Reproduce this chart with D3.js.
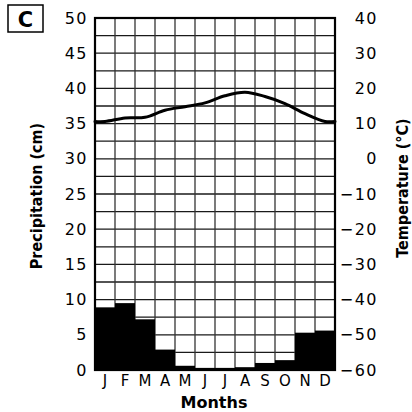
<!DOCTYPE html>
<html>
<head>
<meta charset="utf-8">
<script src="https://cdn.jsdelivr.net/npm/d3@7/dist/d3.min.js"></script>
<style>
  html, body { margin: 0; padding: 0; background: #fff; }
  svg { display: block; }
  .tick text { font-family: "DejaVu Sans", sans-serif; font-size: 16px; letter-spacing: 1.5px; fill: #000; }
  .title { font-family: "DejaVu Sans Condensed", "DejaVu Sans", sans-serif; font-stretch: condensed; font-weight: bold; font-size: 16px; fill: #000; }
</style>
</head>
<body>
<svg id="chart" width="412" height="412"></svg>
<script>
// Climate graph: monthly precipitation (bars) and temperature (line)
const months = ["J", "F", "M", "A", "M", "J", "J", "A", "S", "O", "N", "D"];
const precipitation = [8.9, 9.5, 7.2, 2.9, 0.6, 0.3, 0.3, 0.4, 1.0, 1.4, 5.3, 5.6];
const temperature = [10.6, 11.6, 11.8, 13.8, 14.8, 15.9, 17.9, 18.9, 17.7, 15.7, 12.8, 10.6];
const precipTicks = [0, 5, 10, 15, 20, 25, 30, 35, 40, 45, 50];
const tempTicks = [-60, -50, -40, -30, -20, -10, 0, 10, 20, 30, 40];
const tempTickLabels = ["\u221260", "\u221250", "\u221240", "\u221230", "\u221220", "\u221210", "0", "10", "20", "30", "40"];

const svg = d3.select("#chart");
const plotLeft = 95, plotRight = 335, plotTop = 18, plotBottom = 370;

const x = d3.scaleBand().domain(d3.range(months.length)).range([plotLeft, plotRight]).padding(0);
const yP = d3.scaleLinear().domain([0, 50]).range([plotBottom, plotTop]);
const yT = d3.scaleLinear().domain([-60, 40]).range([plotBottom, plotTop]);

// grid
const grid = svg.append("g").attr("stroke", "#1a1a1a").attr("stroke-width", 1.3);
grid.selectAll("line.h").data(d3.range(0, 50.01, 2.5)).join("line")
  .attr("class", "h")
  .attr("x1", plotLeft).attr("x2", plotRight)
  .attr("y1", d => yP(d)).attr("y2", d => yP(d));
grid.selectAll("line.v").data(d3.range(1, months.length)).join("line")
  .attr("class", "v")
  .attr("stroke", "#333")
  .attr("x1", d => x(d)).attr("x2", d => x(d))
  .attr("y1", plotTop).attr("y2", plotBottom);

// precipitation bars
svg.append("g").selectAll("rect").data(precipitation).join("rect")
  .attr("x", (d, i) => x(i))
  .attr("width", x.bandwidth())
  .attr("y", d => yP(d))
  .attr("height", d => yP(0) - yP(d))
  .attr("fill", "#000");

// temperature line, carried out to the plot edges
const pts = [[plotLeft, temperature[0]]]
  .concat(temperature.map((t, i) => [x(i) + x.bandwidth() / 2, t]))
  .concat([[plotRight, temperature[temperature.length - 1]]]);
svg.append("path")
  .datum(pts)
  .attr("fill", "none")
  .attr("stroke", "#000")
  .attr("stroke-width", 3)
  .attr("stroke-linecap", "round")
  .attr("d", d3.line().x(d => d[0]).y(d => yT(d[1])).curve(d3.curveCatmullRom.alpha(0.5)));

// frame
svg.append("rect")
  .attr("x", plotLeft).attr("y", plotTop)
  .attr("width", plotRight - plotLeft).attr("height", plotBottom - plotTop)
  .attr("fill", "none").attr("stroke", "#000").attr("stroke-width", 2.2);

// axes
const axL = svg.append("g").attr("transform", `translate(${plotLeft},0)`)
  .call(d3.axisLeft(yP).tickValues(precipTicks).tickSize(0).tickPadding(7));
axL.select(".domain").remove();

const axR = svg.append("g").attr("transform", `translate(${plotRight},0)`)
  .call(d3.axisRight(yT).tickValues(tempTicks).tickSize(0).tickPadding(4)
    .tickFormat((d, i) => tempTickLabels[i]));
axR.select(".domain").remove();
axR.selectAll(".tick text").attr("text-anchor", "end").attr("x", 43);

const axB = svg.append("g").attr("transform", `translate(0,${plotBottom})`)
  .call(d3.axisBottom(x).tickSize(0).tickPadding(5).tickFormat(i => months[i]));
axB.select(".domain").remove();
axB.selectAll(".tick text").style("font-size", "15px").style("letter-spacing", "0px");

// axis titles
svg.append("text").attr("class", "title")
  .attr("transform", "translate(42,196) rotate(-90)")
  .attr("text-anchor", "middle")
  .text("Precipitation (cm)");

svg.append("text").attr("class", "title")
  .attr("transform", "translate(408,188) rotate(-90)")
  .attr("text-anchor", "middle")
  .text("Temperature (\u00B0C)");

svg.append("text")
  .attr("x", 214).attr("y", 408)
  .attr("text-anchor", "middle")
  .style("font-family", "'DejaVu Sans', sans-serif")
  .style("font-weight", "bold").style("font-size", "16px")
  .text("Months");

// panel letter
svg.append("rect")
  .attr("x", 8).attr("y", 5).attr("width", 35).attr("height", 27)
  .attr("fill", "none").attr("stroke", "#000").attr("stroke-width", 1.5);
svg.append("text")
  .attr("x", 25.5).attr("y", 26.5)
  .attr("text-anchor", "middle")
  .style("font-family", "'DejaVu Sans', sans-serif")
  .style("font-weight", "bold").style("font-size", "21px")
  .text("C");
</script>
</body>
</html>
